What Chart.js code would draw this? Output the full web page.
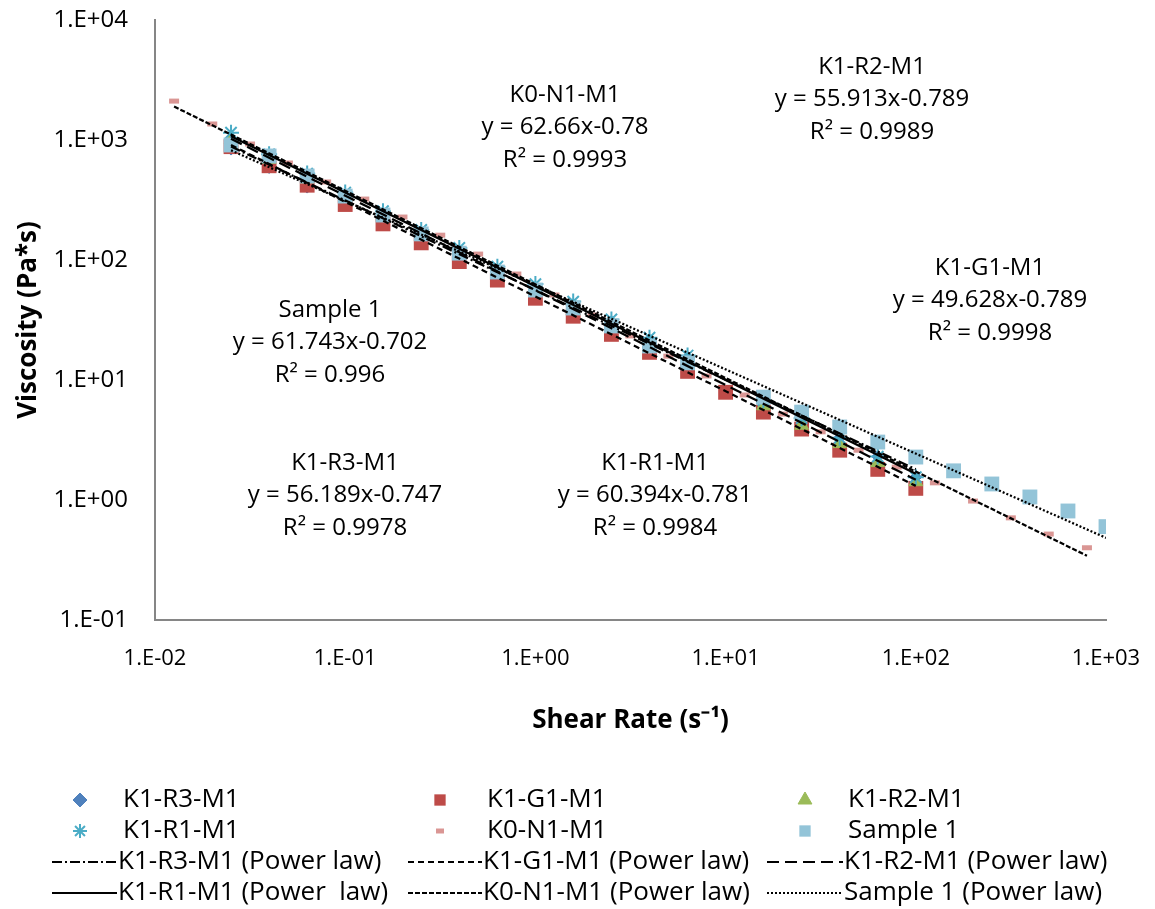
<!DOCTYPE html>
<html>
<head>
<meta charset="utf-8">
<script src="https://cdn.jsdelivr.net/npm/chart.js@4.4.1/dist/chart.umd.min.js"></script>
<style>
  html, body { margin: 0; padding: 0; background: #fff; }
</style>
</head>
<body>
<canvas id="myChart" width="1155" height="909"></canvas>
<script>
// Data (log-log, shear rate vs viscosity)
const seriesNames = ['K1-R3-M1', 'K1-G1-M1', 'K1-R2-M1', 'K1-R1-M1', 'K0-N1-M1', 'Sample 1'];
const trendNames = ['K1-R3-M1 (Power law)', 'K1-G1-M1 (Power law)', 'K1-R2-M1 (Power law)',
	'K1-R1-M1 (Power  law)', 'K0-N1-M1 (Power law)', 'Sample 1 (Power law)'];

const xTicks = [0.01, 0.1, 1, 10, 100, 1000];
const xTickLabels = ['1.E-02', '1.E-01', '1.E+00', '1.E+01', '1.E+02', '1.E+03'];
const yTicks = [0.1, 1, 10, 100, 1000, 10000];
const yTickLabels = ['1.E-01', '1.E+00', '1.E+01', '1.E+02', '1.E+03', '1.E+04'];

// shear rates (1/s)
const rateK1 = [0.0251, 0.0398, 0.0631, 0.1, 0.158, 0.251, 0.398, 0.631, 1, 1.58,
	2.51, 3.98, 6.31, 10, 15.8, 25.1, 39.8, 63.1, 100];
const rateK0 = [0.0126, 0.02, 0.0316, 0.05, 0.0794, 0.126, 0.2, 0.316, 0.5, 0.794,
	1.26, 2, 3.16, 5, 7.94, 12.6, 20, 31.6, 50, 79.4, 126, 200, 316, 500, 794];
const rateS1 = [0.0251, 0.0398, 0.0631, 0.1, 0.158, 0.251, 0.398, 0.631, 1, 1.58,
	2.51, 3.98, 6.31, 10, 15.8, 25.1, 39.8, 63.1, 100, 158, 251, 398, 631, 1000];

// viscosities (Pa*s)
const viscR3 = [840, 590, 405, 290, 205, 146, 106, 77, 56, 42, 30.5, 21.5, 15.3, null, 6.9, 4.8, 3.3, 2.3, 1.55];
const viscG1 = [880, 610, 420, 290, 200, 139, 97, 68, 48, 34, 24, 17, 11.8, 7.9, 5.4, 3.9, 2.6, 1.8, 1.25];
const viscR2 = [1000, 690, 475, 330, 228, 158, 110, 77, 54, 38, 27, 19, 13.4, null, 6.1, 4.2, 2.95, 2.05, 1.42];
const viscR1 = [1150, 760, 525, 365, 255, 178, 126, 88, 63, 45, 32, 22.5, 16, null, 6.8, 4.8, 3.3, 2.3, 1.55];
const viscK0 = [2110, 1360, 926, 643, 447, 322, 228, 161, 112, 76.4, 51.1, 34.8, 23.3, 15.8, 10.8,
	7.5, 5.2, 3.7, 2.6, 1.88, 1.39, 0.98, 0.71, 0.52, 0.40];
const viscS1 = [909, 736, 501, 341, 237, 165, 114, 79.4, 56.2, 39.8, 28.2, 19.2, 13.9, null, 7.2,
	5.4, 4.06, 3.04, 2.28, 1.75, 1.36, 1.06, 0.81, 0.60];

// power-law trendlines shown on the chart: y = a * x^b
const trendA = [56.189, 49.628, 55.913, 60.394, 62.66, 61.743];
const trendB = [-0.747, -0.789, -0.789, -0.781, -0.78, -0.702];
const trendR2 = ['0.9978', '0.9998', '0.9989', '0.9984', '0.9993', '0.996'];

const FONT = '"Open Sans", "Liberation Sans", sans-serif';
const rates = [rateK1, rateK1, rateK1, rateK1, rateK0, rateS1];
const viscs = [viscR3, viscG1, viscR2, viscR1, viscK0, viscS1];

const markerStyle = [
	{ pointStyle: 'rectRot', radius: 6, fill: '#4F81BD', stroke: '#4F81BD', bw: 1, lr: 7 },
	{ pointStyle: 'rect', radius: 10.5, fill: '#BE4B48', stroke: '#BE4B48', bw: 0, lr: 8 },
	{ pointStyle: 'triangle', radius: 8, fill: '#9BBB59', stroke: '#9BBB59', bw: 1, lr: 8 },
	{ pointStyle: 'star', radius: 8, fill: 'rgba(0,0,0,0)', stroke: '#4BACC6', bw: 2, lr: 7 },
	{ pointStyle: 'line', radius: 5, fill: '#DA9694', stroke: '#DA9694', bw: 5, lr: 4 },
	{ pointStyle: 'rect', radius: 10.5, fill: '#93C4D8', stroke: '#93C4D8', bw: 0, lr: 8 }
];
const lineDash = [[10, 3, 2, 3], [6, 4], [12, 6], [], [5, 2], [2, 2]];
// draw order: later series on top, trendlines above all markers
const markerOrder = [6, 5, 4, 3, 2, 1];

const datasets = [];
seriesNames.forEach((name, i) => {
	const pts = [];
	rates[i].forEach((x, j) => { if (viscs[i][j] != null) pts.push({ x: x, y: viscs[i][j] }); });
	const m = markerStyle[i];
	datasets.push({
		label: name,
		data: pts,
		order: markerOrder[i],
		showLine: false,
		pointStyle: m.pointStyle,
		pointRadius: m.radius,
		pointBackgroundColor: m.fill,
		pointBorderColor: m.stroke,
		pointBorderWidth: m.bw
	});
});
trendNames.forEach((name, i) => {
	const x0 = Math.min(...rates[i]);
	const x1 = Math.max(...rates[i]);
	datasets.push({
		label: name,
		data: [{ x: x0, y: trendA[i] * Math.pow(x0, trendB[i]) }, { x: x1, y: trendA[i] * Math.pow(x1, trendB[i]) }],
		order: 0,
		showLine: true,
		pointRadius: 0,
		borderColor: '#000',
		borderWidth: 2.25,
		borderDash: lineDash[i]
	});
});

// equation labels, pixel centres of the first line
const annoPos = [[345, 463], [990, 268], [872, 67], [565, 95], [655, 463], [330, 310]];
const annoIdx = [0, 1, 2, 4, 3, 5];

const annoPlugin = {
	id: 'annoText',
	afterDatasetsDraw(chart) {
		const ctx = chart.ctx;
		ctx.save();
		ctx.font = '24px ' + FONT;
		ctx.fillStyle = '#000';
		ctx.textAlign = 'center';
		ctx.textBaseline = 'middle';
		annoIdx.forEach((i, k) => {
			const [x, y] = annoPos[k];
			ctx.fillText(seriesNames[i], x, y);
			ctx.fillText('y = ' + trendA[i] + 'x' + trendB[i], x, y + 32);
			ctx.fillText('R\u00b2 = ' + trendR2[i], x, y + 65);
		});
		ctx.restore();
	}
};

// legend in a 3-column grid like the original
const legendPlugin = {
	id: 'gridLegend',
	afterDraw(chart) {
		const ctx = chart.ctx;
		const colMarker = [80, 440, 805];
		const colText = [123, 487, 848];
		const lineStart = [52, 408, 767];
		const lineEnd = [117, 482, 843];
		const rowY = [800, 831, 862, 893];
		ctx.save();
		ctx.font = '26px ' + FONT;
		ctx.textBaseline = 'middle';
		ctx.textAlign = 'left';
		seriesNames.forEach((name, i) => {
			const col = i % 3, row = Math.floor(i / 3);
			const m = markerStyle[i];
			ctx.fillStyle = m.fill;
			ctx.strokeStyle = m.stroke;
			ctx.lineWidth = m.bw;
			ctx.setLineDash([]);
			Chart.helpers.drawPoint(ctx, { pointStyle: m.pointStyle, radius: m.lr, rotation: 0, borderWidth: m.bw }, colMarker[col], rowY[row]);
			ctx.fillStyle = '#000';
			ctx.fillText(name, colText[col], rowY[row]);
		});
		trendNames.forEach((name, i) => {
			const col = i % 3, row = 2 + Math.floor(i / 3);
			ctx.strokeStyle = '#000';
			ctx.lineWidth = 2;
			ctx.setLineDash(lineDash[i]);
			ctx.beginPath();
			ctx.moveTo(lineStart[col], rowY[row]);
			ctx.lineTo(lineEnd[col], rowY[row]);
			ctx.stroke();
			ctx.setLineDash([]);
			ctx.fillStyle = '#000';
			ctx.fillText(name, lineEnd[col] + 1, rowY[row]);
		});
		ctx.restore();
	}
};

const canvas = document.getElementById('myChart');
const myChart = new Chart(canvas, {
	type: 'scatter',
	data: { datasets: datasets },
	options: {
		responsive: false,
		animation: false,
		layout: { padding: { top: 20, right: 49, bottom: 173, left: 0 } },
		plugins: {
			legend: { display: false },
			tooltip: { enabled: false }
		},
		scales: {
			x: {
				type: 'logarithmic',
				min: 0.01,
				max: 1000,
				grid: { display: false, drawTicks: false },
				border: { display: true, color: '#868686', width: 2 },
				afterBuildTicks: s => { s.ticks = xTicks.map(v => ({ value: v })); },
				afterFit: s => { s.height = 116; s.paddingLeft = 0; s.paddingRight = 0; },
				ticks: {
					autoSkip: false,
					maxRotation: 0,
					padding: 26,
					color: '#000',
					font: { family: FONT, size: 22 },
					callback: (v, idx) => xTickLabels[idx]
				},
				title: {
					display: true,
					text: 'Shear Rate (s\u207B\u00B9)',
					color: '#000',
					font: { family: FONT, size: 26, weight: 'bold' },
					padding: { top: 0, bottom: 0 }
				}
			},
			y: {
				type: 'logarithmic',
				min: 0.1,
				max: 10000,
				grid: { display: false, drawTicks: false },
				border: { display: true, color: '#868686', width: 2 },
				afterBuildTicks: s => { s.ticks = yTicks.map(v => ({ value: v })); },
				afterFit: s => { s.width = 155; s.paddingTop = 0; s.paddingBottom = 0; },
				ticks: {
					autoSkip: false,
					padding: 27,
					color: '#000',
					font: { family: FONT, size: 24 },
					callback: (v, idx) => yTickLabels[idx]
				},
				title: {
					display: true,
					text: 'Viscosity (Pa*s)',
					color: '#000',
					font: { family: FONT, size: 26, weight: 'bold' },
					padding: { top: 13, bottom: 0 }
				}
			}
		}
	},
	plugins: [annoPlugin, legendPlugin]
});
</script>
</body>
</html>
